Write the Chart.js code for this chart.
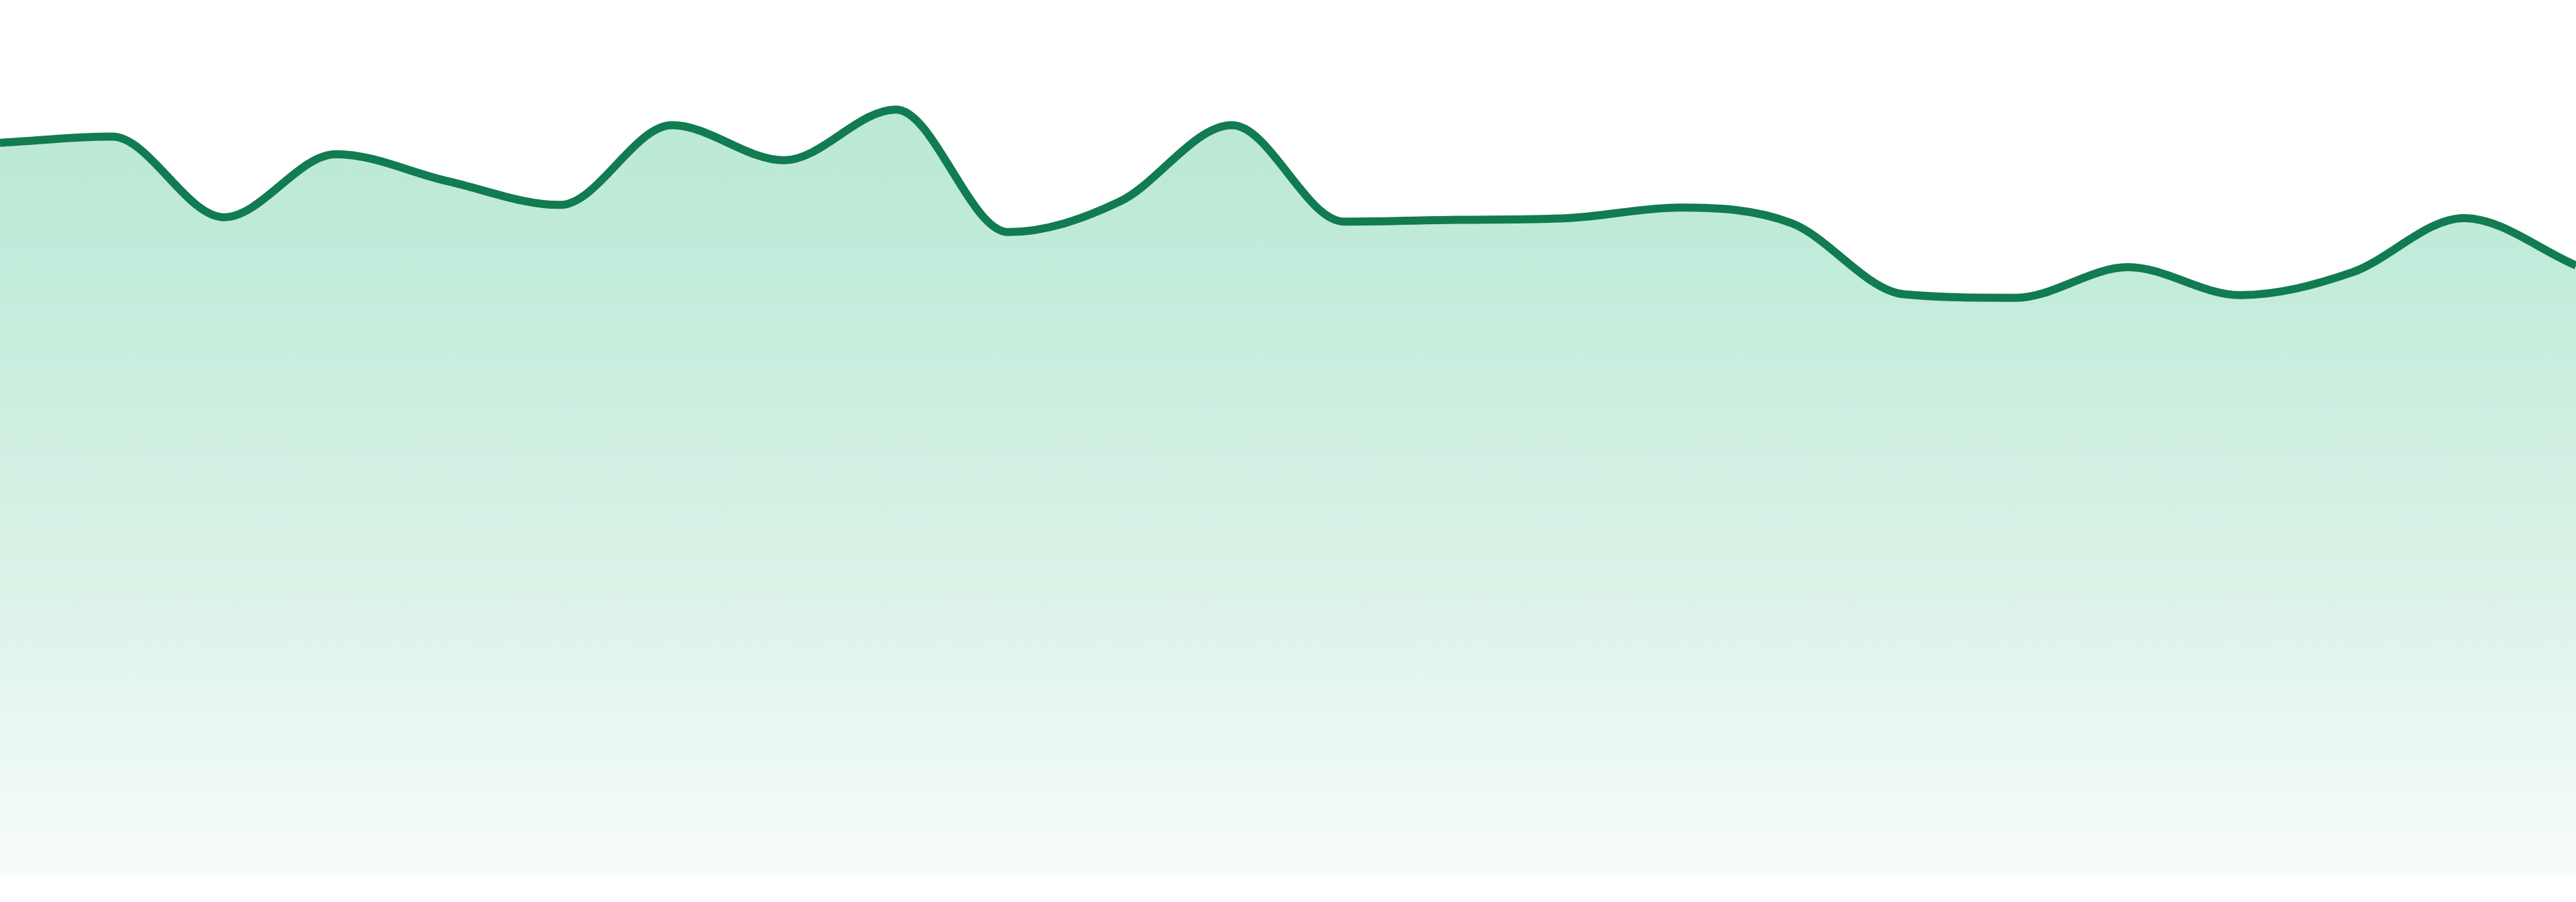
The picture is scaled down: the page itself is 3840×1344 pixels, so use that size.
<!DOCTYPE html>
<html>
<head>
<meta charset="utf-8">
<title>Area chart</title>
<script src="https://cdn.jsdelivr.net/npm/chart.js@4.4.1/dist/chart.umd.min.js"></script>
<style>
  html, body { margin: 0; padding: 0; background: #ffffff; overflow: hidden; }
  #chart { display: block; }
</style>
</head>
<body>
<canvas id="chart" width="3840" height="1344"></canvas>
<script>
// categories and values
const labels = [
  '1', '2', '3', '4', '5', '6', '7', '8', '9', '10', '11', '12',
  '13', '14', '15', '16', '17', '18', '19', '20', '21', '22', '23', '24'
];
const values = [
  83.7, 84.4, 75.2, 82.4, 79.3, 76.6, 85.7, 81.7, 87.5, 73.5, 77.0, 85.7,
  74.7, 74.9, 75.1, 76.3, 74.5, 66.4, 66.0, 69.5, 66.3, 68.9, 75.1, 69.7
];
const yMin = 0;
const yMax = 100;

const lineColor = '#117b51';

function areaGradient(context) {
  const chart = context.chart;
  const area = chart.chartArea;
  if (!area) {
    return 'rgb(186, 231, 212)';
  }
  const g = chart.ctx.createLinearGradient(0, area.top, 0, area.bottom);
  g.addColorStop(0, 'rgb(183, 230, 210)');
  g.addColorStop(0.3, 'rgb(193, 235, 218)');
  g.addColorStop(0.65, 'rgb(218, 242, 231)');
  g.addColorStop(1, 'rgb(247, 252, 250)');
  return g;
}

const ctx = document.getElementById('chart').getContext('2d');
new Chart(ctx, {
  type: 'line',
  data: {
    labels: labels,
    datasets: [
      {
        data: values,
        borderColor: lineColor,
        borderWidth: 12,
        backgroundColor: areaGradient,
        fill: 'origin',
        pointRadius: 0,
        pointHoverRadius: 0,
        cubicInterpolationMode: 'monotone'
      }
    ]
  },
  options: {
    responsive: false,
    devicePixelRatio: 1,
    animation: false,
    layout: {
      padding: { top: 0, left: 0, right: 0, bottom: 39 }
    },
    plugins: {
      legend: { display: false },
      tooltip: { enabled: false }
    },
    scales: {
      x: {
        display: false,
        offset: false
      },
      y: {
        display: false,
        min: yMin,
        max: yMax
      }
    }
  }
});
</script>
</body>
</html>
